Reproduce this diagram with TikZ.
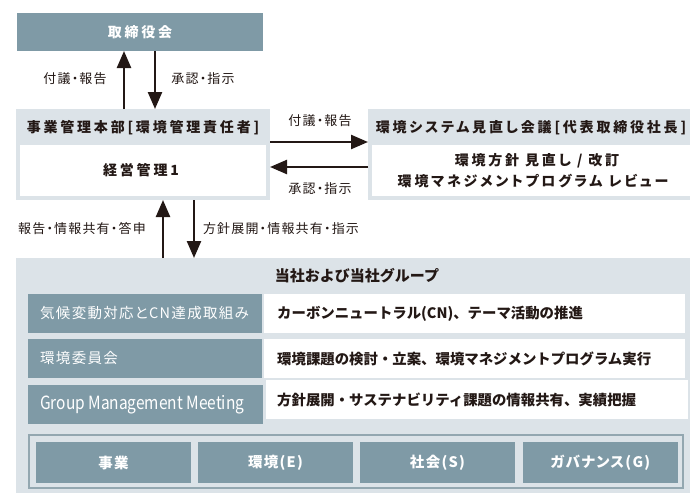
\documentclass[tikz,border=0pt]{standalone}
\usepackage{fontspec}
\usetikzlibrary{arrows.meta}
\setmainfont{Noto Sans CJK JP}
\newfontfamily\hdrfont{Noto Sans CJK JP}[RawFeature=+palt, LetterSpace=20]
\newfontfamily\lblfont{Noto Sans CJK JP}[RawFeature=+palt, LetterSpace=9]
\newfontfamily\rowfont{Noto Sans CJK JP}
\newfontfamily\condfont{Noto Sans CJK JP}[FakeStretch=0.85]
\definecolor{slate}{HTML}{7F9AA6}
\definecolor{pale}{HTML}{DCE3E8}
\definecolor{ink}{HTML}{231815}
\definecolor{framec}{HTML}{93A7B0}
\tikzset{
  box/.style={rectangle, inner sep=0pt, outer sep=0pt, draw=none},
  darkbox/.style={box, fill=slate, text=white},
  palebox/.style={box, fill=pale},
  whitebox/.style={box, fill=white},
  hdr/.style={font=\hdrfont\bfseries\fontsize{14}{17}\selectfont, text=ink, inner sep=0pt},
  lbl/.style={font=\lblfont\fontsize{13}{16}\selectfont, text=ink, inner sep=0pt},
  rowtxt/.style={font=\rowfont\bfseries\fontsize{14.4}{17}\selectfont, text=ink, inner sep=0pt, anchor=west},
  rowlbl/.style={font=\lblfont\fontsize{14.5}{17}\selectfont, text=white, inner sep=0pt, anchor=west},
  esg/.style={darkbox, minimum width=155pt, minimum height=40.5pt, font=\lblfont\bfseries\fontsize{14.5}{17}\selectfont},
  arr/.style={draw=ink, line width=2.4pt, -{Triangle[width=14pt,length=17pt]}}
}
\begin{document}
\begin{tikzpicture}[x=1pt,y=-1pt]
\fill[white] (0,0) rectangle (690,493);
\useasboundingbox (0,0) rectangle (690,493);

% board
\node[darkbox, minimum width=246pt, minimum height=38pt, font=\hdrfont\bfseries\fontsize{14}{17}\selectfont] (board) at (140,32) {取締役会};

% management box
\node[palebox, minimum width=254pt, minimum height=91pt] (mgmt) at (143,154.5) {};
\node[whitebox, minimum width=246pt, minimum height=51pt] (mgmtin) at (143,170.5) {};
\node[hdr] (mgmth) at (143,127.5) {事業管理本部[環境管理責任者]};
\node[hdr] (mgmtt) at (141,170.5) {経営管理1};

% review box
\node[palebox, minimum width=322pt, minimum height=91pt] (rev) at (529,154.5) {};
\node[whitebox, minimum width=318pt, minimum height=51pt] (revin) at (531,170.5) {};
\node[hdr] (revh) at (531,128) {環境システム見直し会議[代表取締役社長]};
\node[hdr] (rev1) at (537,160.5) {環境方針 見直し / 改訂};
\node[hdr] (rev2) at (533,181) {環境マネジメントプログラム レビュー};

% group box
\node[palebox, minimum width=674pt, minimum height=235pt] (grp) at (353,375.5) {};
\node[hdr, font=\rowfont\bfseries\fontsize{15}{18}\selectfont] (grpt) at (357,275.5) {当社および当社グループ};

% rows
\node[darkbox, minimum width=234pt, minimum height=39pt] (r1l) at (145,313.5) {};
\node[whitebox, minimum width=421pt, minimum height=39pt] (r1r) at (474.5,313.5) {};
\node[rowlbl] (r1lt) at (40,313.5) {気候変動対応とCN達成取組み};
\node[rowtxt] (r1rt) at (277,313.5) {カーボンニュートラル(CN)、テーマ活動の推進};

\node[darkbox, minimum width=234pt, minimum height=39pt] (r2l) at (145,358.5) {};
\node[whitebox, minimum width=421pt, minimum height=39pt] (r2r) at (474.5,358.5) {};
\node[rowlbl] (r2lt) at (40,358.5) {環境委員会};
\node[rowtxt] (r2rt) at (277,358.5) {環境課題の検討・立案、環境マネジメントプログラム実行};

\node[darkbox, minimum width=235pt, minimum height=39pt] (r3l) at (145.5,404.5) {};
\node[whitebox, minimum width=422pt, minimum height=39pt] (r3r) at (477,399.5) {};
\node[rowlbl, font=\condfont\fontsize{18.2}{20}\selectfont] (r3lt) at (40,404.5) {Group Management Meeting};
\node[rowtxt] (r3rt) at (277,399.5) {方針展開・サステナビリティ課題の情報共有、実績把握};

% ESG frame
\node[box, draw=framec, line width=2pt, minimum width=654pt, minimum height=53pt] (frm) at (356,461.5) {};
\node[esg] (e1) at (113.5,462.5) {事業};
\node[esg] (e2) at (275.5,462.5) {環境(E)};
\node[esg] (e3) at (437.5,462.5) {社会(S)};
\node[esg] (e4) at (600.5,462.5) {ガバナンス(G)};

% connectors
\coordinate (xa) at (124,0);
\coordinate (xb) at (155,0);
\coordinate (xc) at (163,0);
\coordinate (xd) at (194,0);
\coordinate (ya) at (0,142);
\coordinate (yb) at (0,167);
\draw[arr] (mgmt.north -| xa) -- (board.south -| xa);
\draw[arr] (board.south -| xb) -- (mgmt.north -| xb);
\draw[arr] (mgmt.east |- ya) -- (rev.west |- ya);
\draw[arr] (rev.west |- yb) -- (mgmt.east |- yb);
\draw[arr] (grp.north -| xc) -- (mgmt.south -| xc);
\draw[arr] (mgmt.south -| xd) -- (grp.north -| xd);

% labels
\node[lbl] (l1) at (75,79) {付議・報告};
\node[lbl] (l2) at (203,79) {承認・指示};
\node[lbl] (l3) at (320,121) {付議・報告};
\node[lbl] (l4) at (320,189) {承認・指示};
\node[lbl] (l5) at (82,229) {報告・情報共有・答申};
\node[lbl] (l6) at (281,229) {方針展開・情報共有・指示};
\end{tikzpicture}
\end{document}
